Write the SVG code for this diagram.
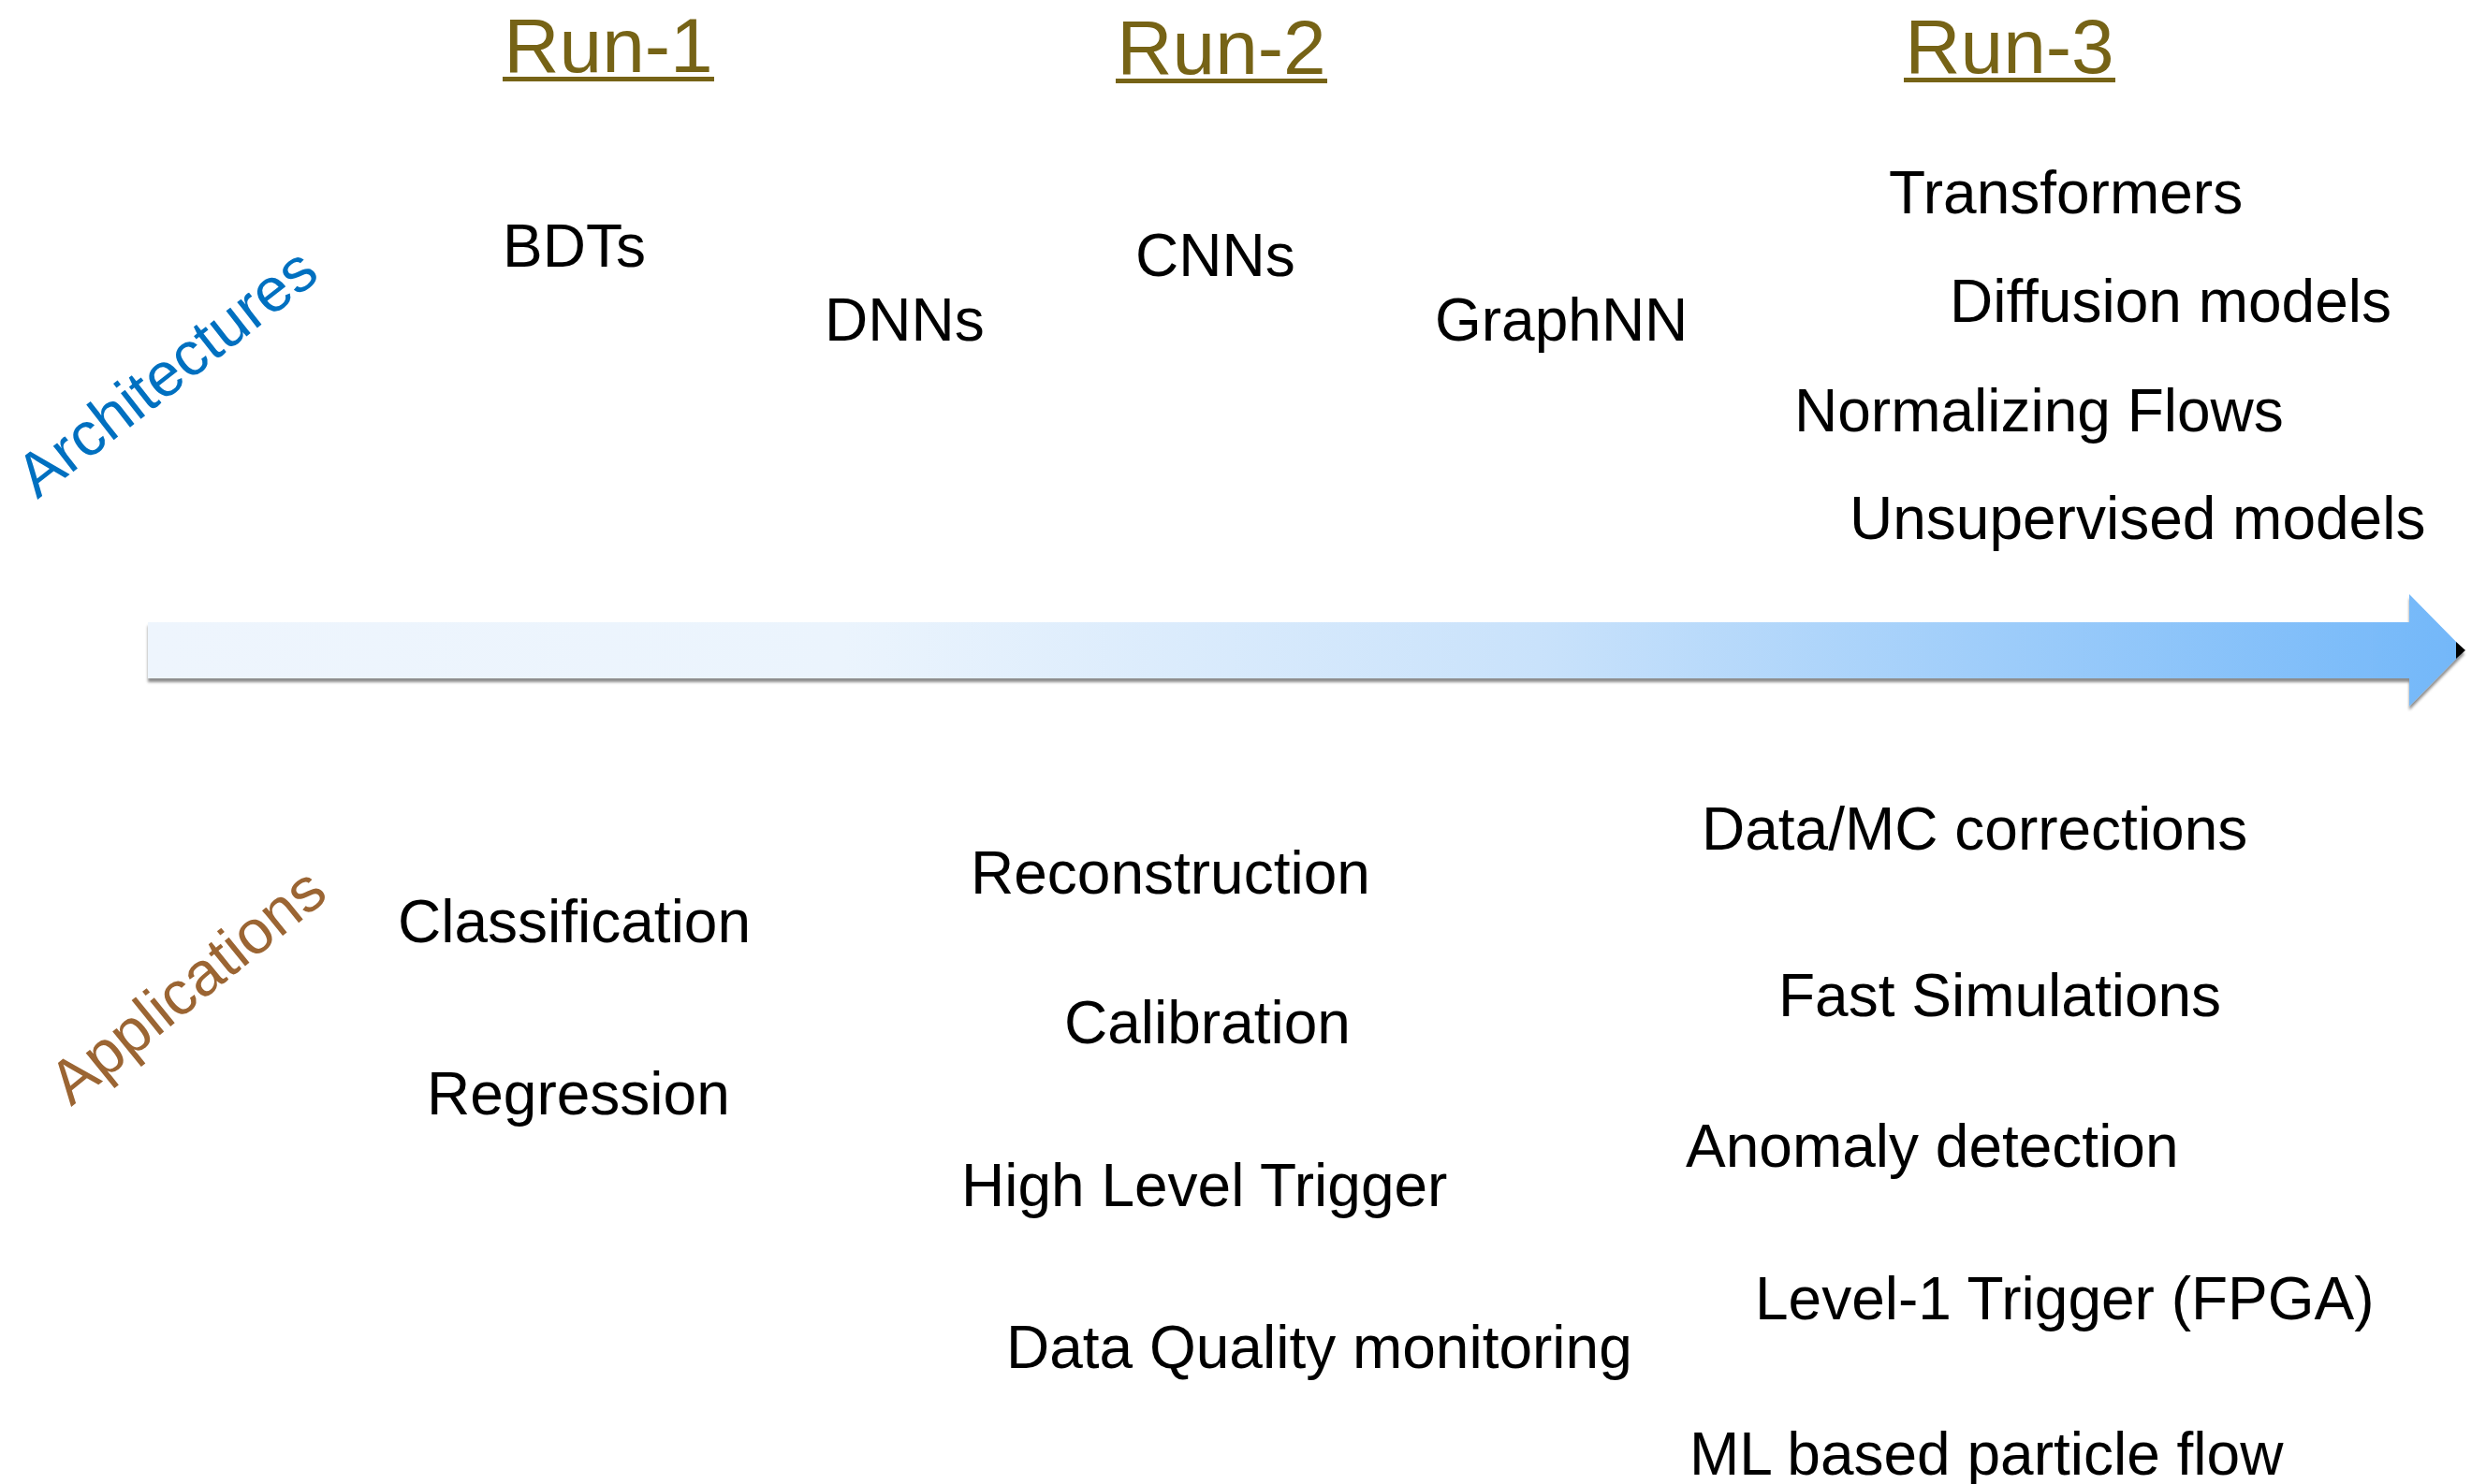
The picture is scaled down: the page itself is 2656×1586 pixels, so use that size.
<svg xmlns="http://www.w3.org/2000/svg" width="2656" height="1586" viewBox="0 0 2656 1586">
  <style>
    .t { font-family: "Liberation Sans", Arial, sans-serif; font-size: 64px; fill: #000; }
    .run { font-family: "Liberation Sans", Arial, sans-serif; font-size: 82px; fill: #766316; text-anchor: middle; }
    .ul { fill: #766316; }
    .arch { font-family: "Liberation Sans", Arial, sans-serif; font-size: 66px; fill: #0070c0; }
    .app { font-family: "Liberation Sans", Arial, sans-serif; font-size: 66px; fill: #9b6533; }
  </style>
  <defs>
    <linearGradient id="grad" gradientUnits="userSpaceOnUse" x1="158" y1="0" x2="2634" y2="0">
      <stop offset="0" stop-color="#eef5fd"/>
      <stop offset="0.3" stop-color="#ebf4fd"/>
      <stop offset="0.6" stop-color="#c9e2fb"/>
      <stop offset="1" stop-color="#72b7f9"/>
    </linearGradient>
    <filter id="shadow" x="-2%" y="-30%" width="104%" height="160%">
      <feDropShadow dx="0" dy="4" stdDeviation="1.5" flood-color="#000" flood-opacity="0.45"/>
    </filter>
  </defs>

  <g id="headers">
    <g id="run1"><text class="run" x="650" y="77">Run-1</text><rect class="ul" x="537" y="82" width="226" height="5"/></g>
    <g id="run2"><text class="run" x="1305" y="79">Run-2</text><rect class="ul" x="1192" y="84" width="226" height="5"/></g>
    <g id="run3"><text class="run" x="2147" y="78">Run-3</text><rect class="ul" x="2034" y="83" width="226" height="5"/></g>
  </g>

  <g id="connectors">
    <path d="M158 665 H2574 V635 L2633 695 L2574 755 V725 H158 Z" fill="url(#grad)" filter="url(#shadow)"/>
    <polygon points="2624,686 2634,695 2624,704" fill="#000"/>
  </g>

  <g id="label-architectures"><text class="arch" transform="translate(40,534) rotate(-38)">Architectures</text></g>
  <g id="label-applications"><text class="app" transform="translate(76,1183) rotate(-39)">Applications</text></g>

  <g id="architectures">
    <g id="n-bdts"><text class="t" x="537" y="285">BDTs</text></g>
    <g id="n-dnns"><text class="t" x="881" y="364">DNNs</text></g>
    <g id="n-cnns"><text class="t" x="1213" y="295">CNNs</text></g>
    <g id="n-graphnn"><text class="t" x="1533" y="364">GraphNN</text></g>
    <g id="n-transformers"><text class="t" x="2018" y="228">Transformers</text></g>
    <g id="n-diffusion"><text class="t" x="2083" y="344">Diffusion models</text></g>
    <g id="n-nf"><text class="t" x="1917" y="461">Normalizing Flows</text></g>
    <g id="n-unsup"><text class="t" x="1976" y="576">Unsupervised models</text></g>
  </g>

  <g id="applications">
    <g id="n-classification"><text class="t" x="425" y="1007">Classification</text></g>
    <g id="n-regression"><text class="t" x="456" y="1191">Regression</text></g>
    <g id="n-reconstruction"><text class="t" x="1037" y="955">Reconstruction</text></g>
    <g id="n-calibration"><text class="t" x="1137" y="1115">Calibration</text></g>
    <g id="n-hlt"><text class="t" x="1027" y="1289">High Level Trigger</text></g>
    <g id="n-dqm"><text class="t" x="1075" y="1462">Data Quality monitoring</text></g>
    <g id="n-datamc"><text class="t" x="1818" y="908">Data/MC corrections</text></g>
    <g id="n-fastsim"><text class="t" x="1900" y="1086">Fast Simulations</text></g>
    <g id="n-anomaly"><text class="t" x="1801" y="1247">Anomaly detection</text></g>
    <g id="n-l1"><text class="t" x="1875" y="1410">Level-1 Trigger (FPGA)</text></g>
    <g id="n-mlpf"><text class="t" x="1805" y="1576">ML based particle flow</text></g>
  </g>
</svg>
